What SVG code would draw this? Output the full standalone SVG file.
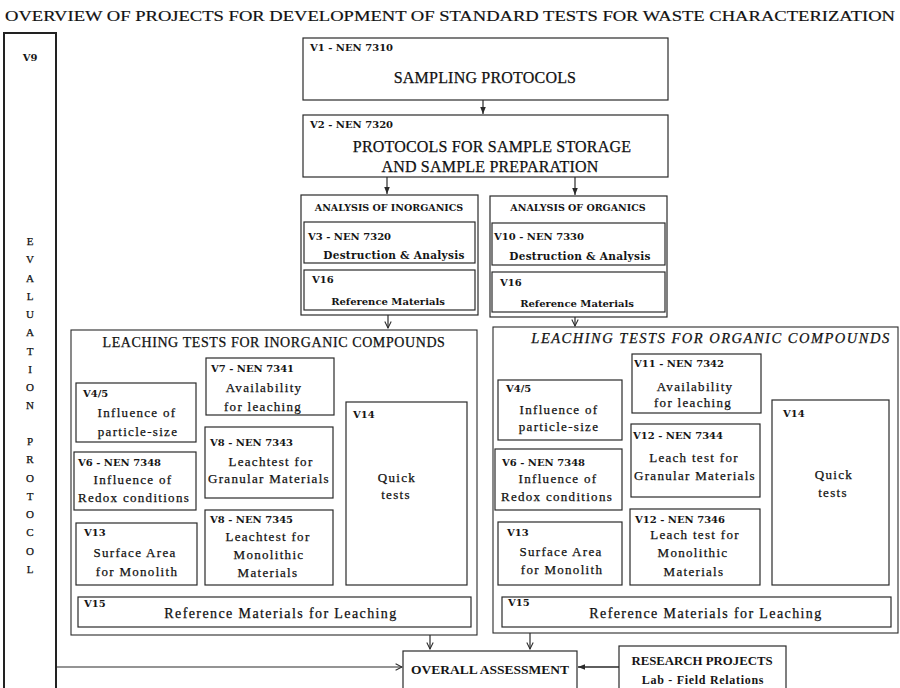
<svg xmlns="http://www.w3.org/2000/svg" width="900" height="688" viewBox="0 0 900 688">
<defs>
<style>
.bx{fill:#fff;stroke:#2a2a2a;stroke-width:1.2}
.ob{fill:none;stroke:#2a2a2a;stroke-width:1.1}
.t{font-family:"DejaVu Serif",serif;fill:#151515}
.s{font-family:"Liberation Serif",serif;fill:#111;stroke:#111;stroke-width:0.25}
.lb{font-size:10px;font-weight:bold}
.hd{font-size:9.5px;font-weight:bold;text-anchor:middle}
.ab{font-size:10px;font-weight:bold;text-anchor:middle}
.big{font-size:16px;letter-spacing:0.2px;text-anchor:middle}
.lt{font-size:14px;letter-spacing:0.6px;text-anchor:middle}
.bd{font-size:13px;letter-spacing:1.3px;text-anchor:middle}
.rf{font-size:14px;letter-spacing:1.4px;text-anchor:middle}
.vc{font-size:11px;text-anchor:middle}
.tm{font-family:"Liberation Serif",serif;fill:#151515;font-weight:bold;text-anchor:middle}
.cn{fill:none;stroke:#2a2a2a;stroke-width:1.2}
</style>
<marker id="af" viewBox="0 0 10 10" refX="10" refY="5" markerUnits="userSpaceOnUse" markerWidth="7" markerHeight="7" orient="auto"><path d="M0,1 L10,5 L0,9 z" fill="#2a2a2a"/></marker>
<marker id="ao" viewBox="0 0 10 10" refX="9" refY="5" markerUnits="userSpaceOnUse" markerWidth="8" markerHeight="8" orient="auto"><path d="M1,1 L9,5 L1,9" fill="none" stroke="#2a2a2a" stroke-width="1.3"/></marker>
</defs>

<text class="s" x="5" y="21" textLength="890" lengthAdjust="spacingAndGlyphs" style="font-size:15.5px;stroke-width:0.2">OVERVIEW OF PROJECTS FOR DEVELOPMENT OF STANDARD TESTS FOR WASTE CHARACTERIZATION</text>

<g id="connectors">
<path class="cn" d="M483,100 L483,114" marker-end="url(#af)"/>
<path class="cn" d="M387,177 L387,194" marker-end="url(#af)"/>
<path class="cn" d="M575,177 L575,195" marker-end="url(#af)"/>
<path class="cn" d="M388,315 L388,328" marker-end="url(#ao)"/>
<path class="cn" d="M575,317 L575,326" marker-end="url(#ao)"/>
<path class="cn" d="M430,635 L430,649" marker-end="url(#ao)"/>
<path class="cn" d="M530,633 L530,649" marker-end="url(#ao)"/>
<path class="cn" d="M56,667 L402,667" marker-end="url(#ao)"/>
<path class="cn" d="M619,667 L578,667" marker-end="url(#af)" style="stroke-width:1.6"/>
</g>

<g id="v9">
<rect x="4" y="33" width="52" height="670" style="fill:none;stroke:#222;stroke-width:2"/>
<text class="t lb" x="30" y="61" text-anchor="middle">V9</text>
<g class="s vc">
<text x="30" y="245">E</text><text x="30" y="263">V</text><text x="30" y="282">A</text><text x="30" y="300">L</text><text x="30" y="318">U</text><text x="30" y="336">A</text><text x="30" y="355">T</text><text x="30" y="373">I</text><text x="30" y="391">O</text><text x="30" y="409">N</text>
<text x="30" y="445">P</text><text x="30" y="463">R</text><text x="30" y="482">O</text><text x="30" y="500">T</text><text x="30" y="518">O</text><text x="30" y="536">C</text><text x="30" y="555">O</text><text x="30" y="573">L</text>
</g>
</g>

<g id="v1">
<rect class="bx" x="303" y="38" width="365" height="62"/>
<text class="t lb" x="310" y="51">V1 - NEN 7310</text>
<text class="s big" x="485" y="83">SAMPLING PROTOCOLS</text>
</g>

<g id="v2">
<rect class="bx" x="303" y="115" width="365" height="62"/>
<text class="t lb" x="310" y="128">V2 - NEN 7320</text>
<text class="s big" x="492" y="152">PROTOCOLS FOR SAMPLE STORAGE</text>
<text class="s big" x="490" y="172">AND SAMPLE PREPARATION</text>
</g>

<g id="analysis-inorganics">
<rect class="bx" x="301" y="195" width="177" height="120"/>
<text class="t hd" x="389" y="211">ANALYSIS OF INORGANICS</text>
<g id="v3">
<rect class="bx" x="304" y="222" width="171" height="41"/>
<text class="t lb" x="308" y="240">V3 - NEN 7320</text>
<text class="t ab" x="394" y="259" style="font-size:10.5px;letter-spacing:0.3px">Destruction &amp; Analysis</text>
</g>
<g id="v16-inorganics">
<rect class="bx" x="304" y="270" width="171" height="40"/>
<text class="t lb" x="312" y="283">V16</text>
<text class="t ab" x="388" y="305">Reference Materials</text>
</g>
</g>

<g id="analysis-organics">
<rect class="bx" x="490" y="196" width="177" height="121"/>
<text class="t hd" x="578" y="211">ANALYSIS OF ORGANICS</text>
<g id="v10">
<rect class="bx" x="492" y="223" width="173" height="42"/>
<text class="t lb" x="494" y="240">V10 - NEN 7330</text>
<text class="t ab" x="580" y="260" style="font-size:10.5px;letter-spacing:0.3px">Destruction &amp; Analysis</text>
</g>
<g id="v16-organics">
<rect class="bx" x="492" y="272" width="173" height="40"/>
<text class="t lb" x="500" y="286">V16</text>
<text class="t ab" x="577" y="307">Reference Materials</text>
</g>
</g>

<g id="leaching-inorganic">
<rect class="ob" x="71" y="330" width="406" height="305"/>
<text class="s lt" x="274" y="347">LEACHING TESTS FOR INORGANIC COMPOUNDS</text>
<g id="li-v45">
<rect class="bx" x="76" y="383" width="120" height="59"/>
<text class="t lb" x="83" y="397">V4/5</text>
<text class="s bd" x="137" y="417">Influence of</text>
<text class="s bd" x="138" y="436">particle-size</text>
</g>
<g id="li-v7">
<rect class="bx" x="206" y="358" width="128" height="57"/>
<text class="t lb" x="211" y="372">V7 - NEN 7341</text>
<text class="s bd" x="264" y="392">Availability</text>
<text class="s bd" x="263" y="411">for leaching</text>
</g>
<g id="li-v8-7343">
<rect class="bx" x="205" y="427" width="128" height="71"/>
<text class="t lb" x="210" y="446">V8 - NEN 7343</text>
<text class="s bd" x="271" y="466">Leachtest for</text>
<text class="s bd" x="269" y="483">Granular Materials</text>
</g>
<g id="li-v6">
<rect class="bx" x="74" y="452" width="122" height="58"/>
<text class="t lb" x="78" y="466">V6 - NEN 7348</text>
<text class="s bd" x="133" y="484">Influence of</text>
<text class="s bd" x="134" y="502">Redox conditions</text>
</g>
<g id="li-v13">
<rect class="bx" x="76" y="523" width="121" height="62"/>
<text class="t lb" x="84" y="536">V13</text>
<text class="s bd" x="135" y="557">Surface Area</text>
<text class="s bd" x="137" y="576">for Monolith</text>
</g>
<g id="li-v8-7345">
<rect class="bx" x="205" y="510" width="128" height="75"/>
<text class="t lb" x="210" y="523">V8 - NEN 7345</text>
<text class="s bd" x="268" y="541">Leachtest for</text>
<text class="s bd" x="269" y="559">Monolithic</text>
<text class="s bd" x="268" y="577">Materials</text>
</g>
<g id="li-v14">
<rect class="bx" x="346" y="402" width="121" height="183"/>
<text class="t lb" x="353" y="418">V14</text>
<text class="s bd" x="397" y="482">Quick</text>
<text class="s bd" x="396" y="499">tests</text>
</g>
<g id="li-v15">
<rect class="bx" x="78" y="597" width="393" height="30"/>
<text class="t lb" x="84" y="607">V15</text>
<text class="s rf" x="281" y="618">Reference Materials for Leaching</text>
</g>
</g>

<g id="leaching-organic">
<rect class="ob" x="493" y="327" width="405" height="306"/>
<text class="s lt" x="711" y="343" font-style="italic" style="font-size:14.5px;letter-spacing:1.5px">LEACHING TESTS FOR ORGANIC COMPOUNDS</text>
<g id="lo-v45">
<rect class="bx" x="498" y="380" width="124" height="60"/>
<text class="t lb" x="506" y="392">V4/5</text>
<text class="s bd" x="559" y="414">Influence of</text>
<text class="s bd" x="559" y="431">particle-size</text>
</g>
<g id="lo-v11">
<rect class="bx" x="632" y="354" width="129" height="59"/>
<text class="t lb" x="634" y="367">V11 - NEN 7342</text>
<text class="s bd" x="695" y="391">Availability</text>
<text class="s bd" x="693" y="407">for leaching</text>
</g>
<g id="lo-v12-7344">
<rect class="bx" x="631" y="424" width="129" height="73"/>
<text class="t lb" x="633" y="439">V12 - NEN 7344</text>
<text class="s bd" x="694" y="462">Leach test for</text>
<text class="s bd" x="695" y="480">Granular Materials</text>
</g>
<g id="lo-v6">
<rect class="bx" x="495" y="449" width="127" height="61"/>
<text class="t lb" x="502" y="466">V6 - NEN 7348</text>
<text class="s bd" x="558" y="483">Influence of</text>
<text class="s bd" x="557" y="501">Redox conditions</text>
</g>
<g id="lo-v13">
<rect class="bx" x="498" y="522" width="124" height="63"/>
<text class="t lb" x="507" y="536">V13</text>
<text class="s bd" x="561" y="556">Surface Area</text>
<text class="s bd" x="562" y="574">for Monolith</text>
</g>
<g id="lo-v12-7346">
<rect class="bx" x="630" y="509" width="130" height="76"/>
<text class="t lb" x="635" y="523">V12 - NEN 7346</text>
<text class="s bd" x="695" y="539">Leach test for</text>
<text class="s bd" x="693" y="557">Monolithic</text>
<text class="s bd" x="694" y="576">Materials</text>
</g>
<g id="lo-v14">
<rect class="bx" x="772" y="400" width="117" height="185"/>
<text class="t lb" x="783" y="417">V14</text>
<text class="s bd" x="834" y="479">Quick</text>
<text class="s bd" x="833" y="497">tests</text>
</g>
<g id="lo-v15">
<rect class="bx" x="502" y="597" width="389" height="30"/>
<text class="t lb" x="508" y="606">V15</text>
<text class="s rf" x="706" y="618">Reference Materials for Leaching</text>
</g>
</g>

<g id="overall-assessment">
<rect class="bx" x="403" y="651" width="174" height="50"/>
<text class="tm" x="490" y="674" font-size="13.5">OVERALL ASSESSMENT</text>
</g>

<g id="research-projects">
<rect class="bx" x="619" y="646" width="167" height="55"/>
<text class="tm" x="702" y="665" font-size="12.8">RESEARCH PROJECTS</text>
<text class="tm" x="703" y="684" font-size="12" letter-spacing="0.7">Lab - Field Relations</text>
</g>
</svg>
